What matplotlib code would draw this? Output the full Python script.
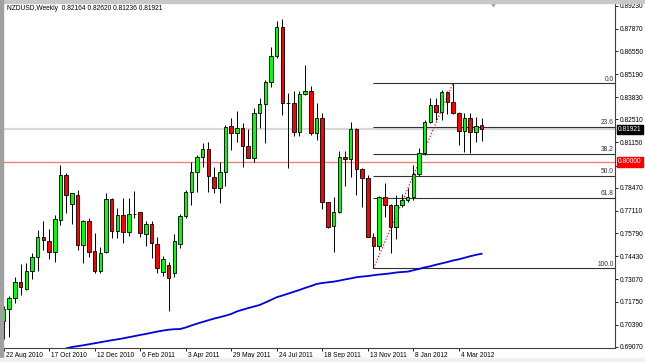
import matplotlib
matplotlib.use("Agg")
import matplotlib.pyplot as plt
import matplotlib.transforms as mtrans
from matplotlib.patches import Rectangle


# weekly NZDUSD candles, first bar = week of 22 Aug 2010
opens = [0.7061, 0.7130, 0.7198, 0.7289, 0.7248, 0.7358, 0.7440, 0.7559, 0.7535, 0.7470,
	0.7657, 0.7923, 0.7752, 0.7805, 0.7510, 0.7651, 0.7474, 0.7358, 0.7466, 0.7779,
	0.7592, 0.7687, 0.7588, 0.7693, 0.7703, 0.7575, 0.7634, 0.7515, 0.7348, 0.7391,
	0.7346, 0.7515, 0.7683, 0.7821, 0.7939, 0.8031, 0.8077, 0.7913, 0.7844, 0.7943,
	0.8212, 0.8169, 0.8199, 0.8094, 0.8025, 0.8287, 0.8341, 0.8471, 0.8628, 0.8795,
	0.8347, 0.8347, 0.8175, 0.8401, 0.8421, 0.8169, 0.8261, 0.7762, 0.7622, 0.7706,
	0.8031, 0.8016, 0.8193, 0.7958, 0.7907, 0.7559, 0.7505, 0.7795, 0.7746, 0.7618,
	0.7746, 0.7775, 0.7795, 0.7927, 0.8051, 0.8234, 0.8337, 0.8297, 0.8415, 0.8352,
	0.8287, 0.8185, 0.8261, 0.8179, 0.82164]
highs = [0.7149, 0.7210, 0.7322, 0.7396, 0.7405, 0.7464, 0.7598, 0.7651, 0.7602, 0.7685,
	0.7982, 0.7933, 0.7818, 0.7834, 0.7657, 0.7667, 0.7579, 0.7500, 0.7818, 0.7785,
	0.7726, 0.7789, 0.7789, 0.7829, 0.7706, 0.7651, 0.7653, 0.7555, 0.7445, 0.7411,
	0.7575, 0.7693, 0.7834, 0.8002, 0.8041, 0.8110, 0.8120, 0.7972, 0.8002, 0.8218,
	0.8258, 0.8301, 0.8228, 0.8193, 0.8317, 0.8380, 0.8484, 0.8677, 0.8833, 0.8845,
	0.8409, 0.8419, 0.8419, 0.8573, 0.8449, 0.8347, 0.8287, 0.7765, 0.7795, 0.8065,
	0.8065, 0.8238, 0.8199, 0.7966, 0.7923, 0.7579, 0.7799, 0.7874, 0.7750, 0.7805,
	0.7811, 0.7844, 0.7982, 0.8081, 0.8248, 0.8376, 0.8376, 0.8425, 0.8421, 0.8466,
	0.8297, 0.8287, 0.8287, 0.8267, 0.82620]
lows = [0.6954, 0.6968, 0.7165, 0.7214, 0.7244, 0.7307, 0.7358, 0.7480, 0.7425, 0.7411,
	0.7628, 0.7700, 0.7634, 0.7480, 0.7401, 0.7437, 0.7342, 0.7346, 0.7461, 0.7549,
	0.7549, 0.7523, 0.7563, 0.7667, 0.7555, 0.7504, 0.7431, 0.7342, 0.7326, 0.7120,
	0.7322, 0.7490, 0.7667, 0.7746, 0.7824, 0.7972, 0.7824, 0.7815, 0.7756, 0.7860,
	0.8071, 0.8116, 0.7972, 0.8022, 0.8002, 0.8199, 0.8110, 0.8445, 0.8612, 0.8277,
	0.7963, 0.8155, 0.8155, 0.8396, 0.8159, 0.8130, 0.7722, 0.7608, 0.7470, 0.7697,
	0.7858, 0.7913, 0.7805, 0.7736, 0.7555, 0.7371, 0.7480, 0.7677, 0.7464, 0.7543,
	0.7736, 0.7765, 0.7775, 0.7917, 0.8041, 0.8228, 0.8248, 0.8248, 0.8282, 0.8282,
	0.8100, 0.8061, 0.8055, 0.8120, 0.81236]
closes = [0.7131, 0.7198, 0.7291, 0.7261, 0.7358, 0.7437, 0.7559, 0.7539, 0.7470, 0.7661,
	0.7923, 0.7805, 0.7815, 0.7510, 0.7651, 0.7470, 0.7358, 0.7461, 0.7779, 0.7592,
	0.7687, 0.7588, 0.7691, 0.7693, 0.7579, 0.7634, 0.7520, 0.7372, 0.7425, 0.7313,
	0.7533, 0.7683, 0.7821, 0.7939, 0.8031, 0.8077, 0.7919, 0.7848, 0.7943, 0.8205,
	0.8169, 0.8199, 0.8094, 0.8025, 0.8287, 0.8341, 0.8471, 0.8628, 0.8795, 0.8347,
	0.8347, 0.8175, 0.8401, 0.8421, 0.8169, 0.8261, 0.7762, 0.7618, 0.7706, 0.8031,
	0.8016, 0.8193, 0.7958, 0.7907, 0.7559, 0.7505, 0.7795, 0.7746, 0.7618, 0.7746,
	0.7775, 0.7795, 0.7927, 0.8051, 0.8234, 0.8337, 0.8297, 0.8415, 0.8352, 0.8287,
	0.8185, 0.8261, 0.8179, 0.8214, 0.81921]

# moving average, starts at bar 11
ma_start = 11
ma_values = [0.6898, 0.6907, 0.6912, 0.6917, 0.6923, 0.6929, 0.6935, 0.6941, 0.6947, 0.6952,
	0.6958, 0.6965, 0.6971, 0.6978, 0.6984, 0.6991, 0.6998, 0.7004, 0.7009, 0.7012,
	0.7013, 0.7022, 0.7034, 0.7045, 0.7055, 0.7065, 0.7075, 0.7083, 0.7092, 0.7102,
	0.7117, 0.7127, 0.7137, 0.7146, 0.7155, 0.7170, 0.7185, 0.7201, 0.7211, 0.7222,
	0.7233, 0.7244, 0.7256, 0.7267, 0.7279, 0.7285, 0.7289, 0.7293, 0.7299, 0.7306,
	0.7312, 0.7319, 0.7323, 0.7326, 0.7331, 0.7335, 0.7338, 0.7342, 0.7347, 0.7350,
	0.7352, 0.7360, 0.7368, 0.7377, 0.7384, 0.7393, 0.7401, 0.7409, 0.7418, 0.7425,
	0.7434, 0.7443, 0.7451, 0.7458]

date_bars = [0, 8, 16, 24, 32, 40, 48, 56, 64, 72, 80]
date_labels = ["22 Aug 2010", "17 Oct 2010", "12 Dec 2010", "6 Feb 2011", "3 Apr 2011",
	"29 May 2011", "24 Jul 2011", "18 Sep 2011", "13 Nov 2011", "8 Jan 2012", "4 Mar 2012"]

price_ticks = [0.89230, 0.87870, 0.86550, 0.85190, 0.83830, 0.82510, 0.81150, 0.79790,
	0.78470, 0.77110, 0.75790, 0.74430, 0.73070, 0.71750, 0.70390, 0.69070]

fib_low_bar = 65
fib_low = 0.7371
fib_high_bar = 79
fib_high = 0.8466
fib_levels = [0.0, 23.6, 38.2, 50.0, 61.8, 100.0]

level_line = 0.80000
bid_price = 0.81921

header = "NZDUSD,Weekly  0.82164 0.82620 0.81236 0.81921"


def main():

	plt.rcParams["font.family"] = ["Liberation Sans", "DejaVu Sans"]
	fs = 4.8

	fig = plt.figure(figsize=(6.45, 3.62), dpi=100)
	W, H = 645.0, 362.0
	ax = fig.add_axes([3 / W, (H - 347.7) / H, 612 / W, 344.7 / H])

	# window frame bits
	fig.patches.append(Rectangle((0, 1 - 2.5 / H), 1, 2.5 / H, transform=fig.transFigure,
		color="#c8c8c8", zorder=0))
	fig.patches.append(Rectangle((0, 0), 3 / W, 1, transform=fig.transFigure,
		color="#a0a0a0", zorder=0))
	fig.patches.append(Rectangle((0, 0), 1, 4 / H, transform=fig.transFigure,
		color="#f0f0f0", zorder=0))

	n = len(opens)
	x = list(range(n))

	# horizontal lines
	ax.axhline(level_line, color="#f08080", lw=1.0, zorder=1)
	ax.axhline(bid_price, color="#d8d8d8", lw=1.6, zorder=1)

	# fibonacci
	rng = fib_high - fib_low
	for lv in fib_levels:
		p = fib_high - lv / 100.0 * rng
		ax.hlines(p, fib_low_bar, 200, color="#303030", lw=0.8, zorder=2)
		ax.annotate("%.1f" % lv, xy=(1, p), xycoords=("axes fraction", "data"),
			xytext=(-1, 0.3), textcoords="offset points", ha="right", va="bottom",
			fontsize=fs, color="#303030")
	ax.plot([fib_low_bar, fib_high_bar], [fib_low, fib_high], color="red",
		ls=(0, (1.2, 1.6)), lw=0.8, zorder=2)

	# candles
	ax.vlines(x, lows, highs, color="black", lw=0.7, zorder=3)
	bottoms = [min(o, c) for o, c in zip(opens, closes)]
	heights = [abs(c - o) for o, c in zip(opens, closes)]
	colors = ["#00ff00" if c > o else "#ff0000" for o, c in zip(opens, closes)]
	ax.bar(x, heights, bottom=bottoms, width=0.62, color=colors,
		edgecolor="black", linewidth=0.6, zorder=4)

	# moving average
	ax.plot(range(ma_start, ma_start + len(ma_values)), ma_values, color="#0000dd",
		lw=1.3, zorder=5)

	# chart shift marker
	ax.plot([86], [0.8932], marker="v", color="#a0a0a0", markersize=3, zorder=5)

	ax.set_xlim(-0.1, 107.45)
	ax.set_ylim(0.69028, 0.8939)

	ax.yaxis.tick_right()
	ax.set_yticks(price_ticks)
	# the 0.79790 label sits under the red 0.80000 box, so leave it blank
	ylabels = []
	for p in price_ticks:
		if abs(p - level_line) < 0.004:
			ylabels.append("")
		else:
			ylabels.append("%.5f" % p)
	ax.set_yticklabels(ylabels)
	ax.tick_params(axis="y", length=2.2, width=0.6, pad=1, labelsize=fs)

	ax.set_xticks(date_bars)
	ax.set_xticklabels(date_labels)
	ax.tick_params(axis="x", length=2.2, width=0.6, pad=1.2, labelsize=fs)
	shift = mtrans.ScaledTranslation(1.5 / 72, 0, fig.dpi_scale_trans)
	for lab in ax.get_xticklabels():
		lab.set_horizontalalignment("left")
		lab.set_transform(lab.get_transform() + shift)

	for s in ["top", "left"]:
		ax.spines[s].set_color("#c0c0c0")
		ax.spines[s].set_linewidth(0.6)
	for s in ["right", "bottom"]:
		ax.spines[s].set_color("#404040")
		ax.spines[s].set_linewidth(0.8)

	# price boxes on the axis
	ax.annotate("%.5f" % bid_price, xy=(1, bid_price), xycoords=("axes fraction", "data"),
		xytext=(2.2, 0), textcoords="offset points", ha="left", va="center",
		fontsize=fs, color="white", annotation_clip=False, zorder=10,
		bbox=dict(boxstyle="square,pad=0.2", fc="black", ec="black"))
	ax.annotate("%.5f" % level_line, xy=(1, level_line), xycoords=("axes fraction", "data"),
		xytext=(2.2, 0), textcoords="offset points", ha="left", va="center",
		fontsize=fs, color="white", annotation_clip=False, zorder=10,
		bbox=dict(boxstyle="square,pad=0.2", fc="#ff0000", ec="#ff0000"))

	fig.text(7 / W, 1 - 9 / H, header, fontsize=fs, va="center", ha="left")

	fig.savefig("out.png", dpi=100)


if __name__ == "__main__":
	main()
